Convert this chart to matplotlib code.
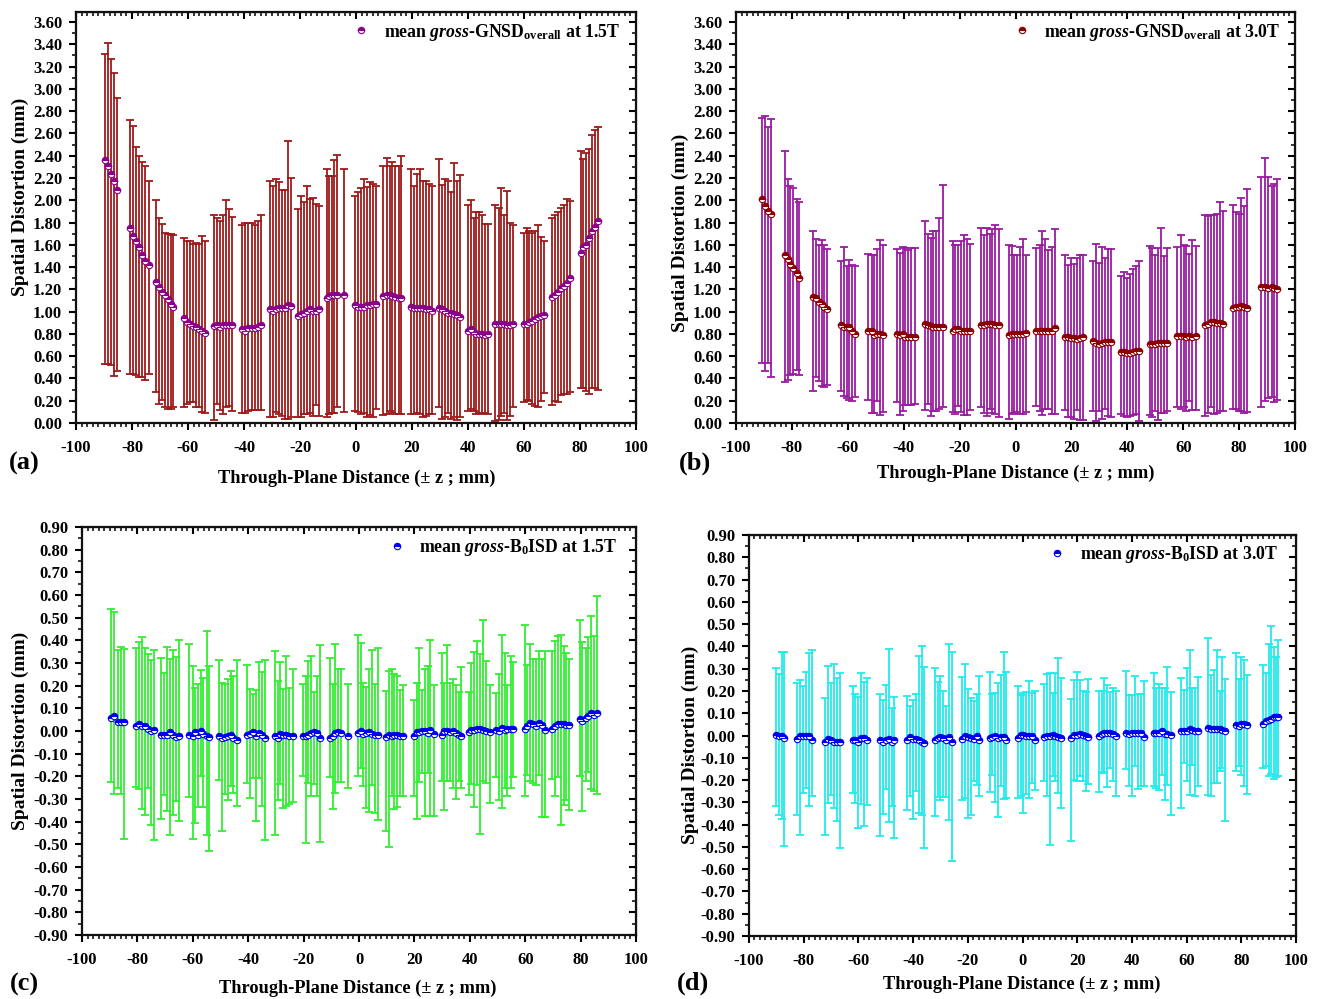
import numpy as np
import matplotlib
matplotlib.use("Agg")
import matplotlib.pyplot as plt
from matplotlib.ticker import MultipleLocator, FormatStrFormatter
from matplotlib.lines import Line2D

plt.rcParams['font.family'] = ['Liberation Serif', 'DejaVu Serif']
plt.rcParams['font.weight'] = 'bold'
plt.rcParams['axes.unicode_minus'] = False
plt.rcParams['mathtext.fontset'] = 'custom'
plt.rcParams['mathtext.rm'] = 'Liberation Serif:bold'
plt.rcParams['mathtext.it'] = 'Liberation Serif:italic:bold'
plt.rcParams['mathtext.bf'] = 'Liberation Serif:bold'

# ---------------- Panel (a): gross-GNSD overall at 1.5T ----------------
a_z = [-89.6, -88.5, -87.4, -86.3, -85.4,
       -80.6, -79.5, -78.4, -77.4, -76.3, -75.2, -74.1,
       -71.4, -70.3, -69.3, -68.2, -67.2, -66.1, -65.2,
       -61.5, -60.4, -59.3, -58.3, -57.2, -56.1, -55.0, -54.0,
       -50.7, -49.6, -48.6, -47.6, -46.5, -45.5, -44.2,
       -40.6, -39.5, -38.4, -37.3, -36.2, -35.1, -34.0,
       -30.6, -29.6, -28.5, -27.4, -26.3, -25.3, -24.2, -23.1,
       -20.7, -19.7, -18.6, -17.5, -16.4, -15.4, -14.3, -13.2,
       -10.5, -9.6, -8.7, -7.8, -6.9,
       -4.2,
       -0.4, 0.6, 1.7, 2.7, 3.8, 4.9, 6.0, 7.0,
       9.8, 10.9, 12.0, 13.0, 14.1, 15.2, 16.1,
       19.7, 20.8, 21.9, 22.9, 24.0, 25.1, 26.1, 27.3,
       29.7, 30.8, 31.9, 33.0, 34.0, 35.1, 36.2, 37.3,
       40.0, 41.0, 42.0, 43.0, 44.0, 45.0, 46.0, 47.0,
       49.8, 50.9, 51.9, 53.0, 54.1, 55.1, 56.1,
       59.9, 60.9, 61.9, 63.0, 64.0, 65.0, 66.1, 67.3,
       70.1, 71.1, 72.2, 73.2, 74.3, 75.3, 76.4,
       80.2, 81.2, 82.2, 83.3, 84.3, 85.4, 86.4]
a_mean = [2.36, 2.31, 2.24, 2.17, 2.09,
          1.75, 1.68, 1.63, 1.58, 1.51, 1.45, 1.42,
          1.27, 1.22, 1.18, 1.15, 1.11, 1.07, 1.04,
          0.94, 0.91, 0.89, 0.87, 0.86, 0.84, 0.83, 0.81,
          0.87, 0.88, 0.86, 0.88, 0.88, 0.88, 0.88,
          0.84, 0.83, 0.85, 0.85, 0.85, 0.86, 0.88,
          1.02, 1.01, 1.02, 1.03, 1.03, 1.03, 1.06, 1.05,
          0.96, 0.98, 0.99, 1.01, 1.02, 1.01, 1.01, 1.02,
          1.12, 1.14, 1.15, 1.15, 1.15,
          1.15,
          1.06, 1.04, 1.04, 1.04, 1.06, 1.06, 1.07, 1.07,
          1.14, 1.15, 1.15, 1.14, 1.13, 1.12, 1.12,
          1.04, 1.03, 1.03, 1.03, 1.03, 1.02, 1.02, 1.01,
          1.03, 1.02, 1.01, 0.99, 0.99, 0.98, 0.97, 0.95,
          0.83, 0.84, 0.82, 0.80, 0.80, 0.80, 0.79, 0.80,
          0.89, 0.89, 0.89, 0.89, 0.88, 0.88, 0.89,
          0.89, 0.89, 0.91, 0.92, 0.93, 0.95, 0.96, 0.97,
          1.13, 1.15, 1.18, 1.21, 1.23, 1.26, 1.30,
          1.53, 1.58, 1.60, 1.66, 1.72, 1.76, 1.81]
a_high = [3.31, 3.41, 3.27, 3.14, 2.92,
          2.72, 2.67, 2.48, 2.40, 2.34, 2.31, 2.17,
          2.00, 1.84, 1.79, 1.71, 1.70, 1.70, 1.69,
          1.66, 1.63, 1.63, 1.61, 1.62, 1.61, 1.68, 1.63,
          1.87, 1.84, 1.81, 1.87, 2.00, 1.92, 1.85,
          1.78, 1.80, 1.80, 1.80, 1.78, 1.81, 1.87,
          2.17, 2.13, 2.19, 2.16, 2.09, 2.09, 2.53, 2.20,
          1.92, 2.04, 1.98, 2.13, 2.01, 2.02, 1.97, 1.95,
          2.28, 2.22, 2.22, 2.36, 2.41,
          2.28,
          2.04, 2.07, 2.11, 2.19, 2.12, 2.16, 2.15, 2.13,
          2.31, 2.38, 2.31, 2.34, 2.31, 2.31, 2.40,
          2.28, 2.13, 2.24, 2.28, 2.17, 2.17, 2.15, 2.13,
          2.37, 2.14, 2.19, 2.17, 2.07, 2.33, 2.17, 2.23,
          1.96, 2.00, 1.84, 1.89, 1.89, 1.87, 1.79, 1.79,
          1.96, 1.93, 2.11, 1.87, 2.08, 1.80, 1.78,
          1.71, 1.75, 1.72, 1.71, 1.72, 1.78, 1.67, 1.63,
          1.84, 1.87, 1.89, 1.93, 1.96, 2.01, 1.99,
          2.44, 2.37, 2.42, 2.46, 2.59, 2.63, 2.66]
a_low = [0.53, 0.53, 0.52, 0.42, 0.47,
         0.44, 0.44, 0.43, 0.41, 0.41, 0.39, 0.44,
         0.28, 0.17, 0.21, 0.14, 0.13, 0.13, 0.14,
         0.14, 0.17, 0.19, 0.19, 0.14, 0.14, 0.10, 0.09,
         0.03, 0.17, 0.12, 0.08, 0.14, 0.15, 0.11,
         0.09, 0.09, 0.11, 0.12, 0.12, 0.12, 0.12,
         0.05, 0.05, 0.10, 0.08, 0.06, 0.04, 0.04, 0.05,
         0.05, 0.05, 0.08, 0.08, 0.09, 0.06, 0.16, 0.06,
         0.05, 0.08, 0.09, 0.09, 0.14,
         0.10,
         0.11, 0.10, 0.08, 0.09, 0.05, 0.07, 0.05, 0.13,
         0.07, 0.08, 0.11, 0.09, 0.08, 0.08, 0.08,
         0.08, 0.08, 0.09, 0.08, 0.05, 0.06, 0.08, 0.08,
         0.14, 0.04, 0.05, 0.09, 0.04, 0.05, 0.03, 0.05,
         0.11, 0.13, 0.11, 0.08, 0.09, 0.08, 0.09, 0.08,
         0.02, 0.03, 0.06, 0.09, 0.03, 0.06, 0.14,
         0.19, 0.21, 0.20, 0.17, 0.15, 0.14, 0.20, 0.27,
         0.16, 0.20, 0.19, 0.25, 0.26, 0.26, 0.28,
         0.31, 0.31, 0.29, 0.26, 0.31, 0.31, 0.30]

# ---------------- Panel (b): gross-GNSD overall at 3.0T ----------------
b_z = [-90.7, -89.6, -88.5, -87.4,
       -82.5, -81.5, -80.6, -79.5, -78.3, -77.4,
       -72.4, -71.4, -70.4, -69.4, -68.4, -67.3,
       -62.4, -61.5, -60.3, -59.5, -58.5, -57.3,
       -52.7, -51.5, -50.5, -49.6, -48.5, -47.3,
       -42.5, -41.3, -40.4, -39.4, -38.4, -37.3, -35.9,
       -32.4, -31.4, -30.4, -29.4, -28.4, -27.2, -26.0,
       -22.4, -21.5, -20.4, -19.5, -18.5, -17.4, -16.2,
       -12.3, -11.3, -10.3, -9.3, -8.4, -7.2, -6.0,
       -2.4, -1.3, -0.4, 0.6, 1.7, 2.6, 3.8,
       7.4, 8.6, 9.6, 10.6, 11.8, 13.0, 14.2,
       17.8, 18.8, 19.7, 20.8, 22.0, 22.9, 24.1,
       27.9, 28.9, 29.8, 30.9, 31.9, 33.1, 34.3,
       37.9, 38.8, 39.9, 40.8, 42.0, 43.0, 44.2,
       48.0, 48.9, 50.0, 51.0, 51.9, 53.0, 54.2,
       57.9, 59.1, 60.2, 61.1, 62.1, 63.3, 64.5,
       67.9, 68.9, 70.1, 71.0, 72.1, 73.1, 74.3,
       77.9, 78.8, 79.9, 80.8, 81.8, 82.9,
       88.0, 89.2, 90.4, 91.6, 92.5, 93.6]
b_mean = [2.01, 1.95, 1.90, 1.88,
          1.51, 1.47, 1.43, 1.39, 1.35, 1.30,
          1.13, 1.12, 1.09, 1.07, 1.04, 1.02,
          0.88, 0.86, 0.86, 0.86, 0.83, 0.80,
          0.83, 0.83, 0.79, 0.80, 0.80, 0.79,
          0.80, 0.79, 0.80, 0.77, 0.77, 0.77, 0.77,
          0.89, 0.88, 0.87, 0.86, 0.86, 0.86, 0.86,
          0.83, 0.84, 0.84, 0.83, 0.83, 0.83, 0.83,
          0.88, 0.88, 0.89, 0.89, 0.89, 0.88, 0.88,
          0.79, 0.80, 0.80, 0.80, 0.80, 0.80, 0.81,
          0.83, 0.83, 0.83, 0.83, 0.83, 0.83, 0.85,
          0.77, 0.77, 0.76, 0.76, 0.75, 0.76, 0.77,
          0.74, 0.72, 0.71, 0.72, 0.73, 0.73, 0.73,
          0.64, 0.64, 0.63, 0.63, 0.64, 0.65, 0.65,
          0.71, 0.71, 0.71, 0.72, 0.72, 0.72, 0.72,
          0.78, 0.78, 0.78, 0.77, 0.78, 0.77, 0.78,
          0.88, 0.89, 0.91, 0.91, 0.90, 0.90, 0.89,
          1.03, 1.04, 1.04, 1.05, 1.04, 1.03,
          1.22, 1.22, 1.21, 1.22, 1.21, 1.20]
b_high = [2.74, 2.76, 2.66, 2.73,
          2.44, 2.19, 2.13, 2.11, 2.01, 1.98,
          1.72, 1.65, 1.60, 1.64, 1.60, 1.56,
          1.45, 1.58, 1.41, 1.46, 1.42, 1.41,
          1.52, 1.51, 1.51, 1.56, 1.64, 1.60,
          1.56, 1.53, 1.58, 1.57, 1.55, 1.57, 1.57,
          1.81, 1.70, 1.66, 1.72, 1.72, 1.84, 2.14,
          1.63, 1.60, 1.60, 1.63, 1.69, 1.65, 1.61,
          1.75, 1.69, 1.75, 1.70, 1.74, 1.78, 1.74,
          1.60, 1.59, 1.51, 1.51, 1.58, 1.65, 1.51,
          1.57, 1.60, 1.72, 1.65, 1.55, 1.58, 1.74,
          1.51, 1.42, 1.48, 1.43, 1.48, 1.51, 1.51,
          1.45, 1.61, 1.44, 1.58, 1.48, 1.56, 1.56,
          1.32, 1.36, 1.30, 1.34, 1.38, 1.41, 1.45,
          1.59, 1.57, 1.51, 1.57, 1.75, 1.50, 1.57,
          1.58, 1.69, 1.60, 1.59, 1.52, 1.64, 1.59,
          1.87, 1.86, 1.87, 1.87, 1.88, 1.98, 1.90,
          1.96, 1.89, 1.88, 2.02, 1.95, 2.10,
          2.21, 2.38, 2.21, 2.13, 2.15, 2.19]
b_low = [0.54, 0.47, 0.54, 0.41,
         0.37, 0.39, 0.43, 0.44, 0.48, 0.43,
         0.29, 0.41, 0.38, 0.33, 0.32, 0.34,
         0.29, 0.24, 0.22, 0.21, 0.20, 0.23,
         0.21, 0.09, 0.09, 0.20, 0.07, 0.10,
         0.19, 0.07, 0.11, 0.16, 0.16, 0.16, 0.17,
         0.12, 0.17, 0.06, 0.11, 0.11, 0.13, 0.14,
         0.10, 0.08, 0.15, 0.10, 0.07, 0.07, 0.12,
         0.14, 0.09, 0.06, 0.13, 0.09, 0.08, 0.05,
         0.04, 0.08, 0.09, 0.10, 0.08, 0.08, 0.10,
         0.15, 0.11, 0.07, 0.13, 0.13, 0.08, 0.08,
         0.12, 0.05, 0.05, 0.04, 0.12, 0.03, 0.03,
         0.11, 0.02, 0.11, 0.04, 0.13, 0.06, 0.05,
         0.08, 0.06, 0.05, 0.06, 0.07, 0.08, 0.02,
         0.07, 0.05, 0.11, 0.03, 0.09, 0.09, 0.11,
         0.14, 0.13, 0.14, 0.11, 0.20, 0.12, 0.12,
         0.06, 0.09, 0.14, 0.08, 0.09, 0.11, 0.11,
         0.13, 0.13, 0.11, 0.11, 0.09, 0.10,
         0.14, 0.20, 0.22, 0.23, 0.19, 0.21]

# ---------------- Panel (c): gross-B0ISD at 1.5T ----------------
c_z = [-89.5, -88.3, -87.1, -85.9, -84.9,
       -80.5, -79.3, -78.4, -77.2, -76.2, -75.0, -73.9,
       -71.5, -70.3, -69.4, -68.2, -67.0, -66.0, -64.9,
       -61.3, -60.1, -59.1, -58.2, -57.1, -56.2, -55.0, -54.0,
       -50.4, -49.3, -48.3, -47.4, -46.3, -45.4, -44.1,
       -40.3, -39.3, -38.3, -37.1, -36.1, -35.1, -33.9,
       -30.3, -29.3, -28.5, -27.3, -26.3, -25.2, -24.0,
       -20.3, -19.2, -18.3, -17.3, -16.2, -15.3, -14.1,
       -10.5, -9.5, -8.5, -7.6, -6.5,
       -4.1,
       -0.5, 0.6, 1.6, 2.6, 3.6, 4.6, 5.8, 7.0,
       9.7, 10.8, 11.8, 12.7, 13.8, 14.8, 16.0,
       19.8, 20.8, 21.8, 22.8, 23.8, 24.8, 25.8, 27.0,
       29.8, 30.8, 31.8, 32.8, 33.8, 34.9, 36.1, 37.0,
       39.7, 40.6, 41.6, 42.7, 43.6, 44.8, 46.0, 47.2,
       49.6, 50.6, 51.7, 52.6, 53.6, 54.7, 55.6,
       59.9, 60.8, 61.9, 62.9, 63.8, 64.9, 65.9, 67.1,
       69.8, 70.9, 71.9, 72.8, 73.9, 74.9, 75.8,
       79.7, 80.6, 81.8, 82.7, 83.9, 84.9, 85.9]
c_mean = [0.057, 0.065, 0.038, 0.038, 0.038,
          0.024, 0.032, 0.021, 0.021, 0.009, -0.001, 0.003,
          -0.016, -0.016, -0.016, -0.006, -0.016, -0.026, -0.021,
          -0.019, -0.024, -0.006, -0.016, -0.001, -0.012, -0.024, -0.026,
          -0.021, -0.031, -0.026, -0.021, -0.016, -0.031, -0.038,
          -0.016, -0.013, -0.006, -0.024, -0.009, -0.016, -0.031,
          -0.021, -0.031, -0.013, -0.016, -0.016, -0.021, -0.021,
          -0.024, -0.021, -0.016, -0.009, -0.006, -0.009, -0.031,
          -0.031, -0.021, -0.009, -0.006, -0.009,
          -0.024,
          -0.009, -0.001, -0.013, -0.009, -0.006, -0.013, -0.016, -0.016,
          -0.026, -0.016, -0.024, -0.016, -0.016, -0.021, -0.024,
          -0.021, -0.006, -0.006, 0.001, 0.001, -0.009, 0.006, -0.013,
          -0.016, -0.001, 0.001, -0.006, -0.001, -0.009, -0.016, -0.021,
          -0.006, 0.006, 0.006, 0.009, 0.009, 0.006, -0.001, -0.006,
          0.006, -0.001, 0.013, 0.006, 0.009, 0.009, 0.009,
          0.009, 0.021, 0.035, 0.032, 0.024, 0.035, 0.028, 0.003,
          0.009, 0.021, 0.032, 0.032, 0.032, 0.028, 0.028,
          0.053, 0.043, 0.057, 0.065, 0.079, 0.072, 0.079]
c_high = [0.538, 0.525, 0.359, 0.371, 0.363,
          0.366, 0.391, 0.415, 0.366, 0.341, 0.312, 0.359,
          0.322, 0.256, 0.369, 0.318, 0.359, 0.326, 0.400,
          0.384, 0.285, 0.190, 0.209, 0.271, 0.234, 0.440, 0.285,
          0.312, 0.212, 0.207, 0.231, 0.266, 0.244, 0.315,
          0.293, 0.185, 0.165, 0.179, 0.304, 0.260, 0.312,
          0.351, 0.222, 0.303, 0.185, 0.332, 0.190, 0.275,
          0.209, 0.241, 0.310, 0.329, 0.172, 0.244, 0.381,
          0.322, 0.207, 0.385, 0.274, 0.275,
          0.209,
          0.422, 0.388, 0.212, 0.193, 0.274, 0.359, 0.209, 0.366,
          0.178, 0.263, 0.274, 0.251, 0.244, 0.182, 0.204,
          0.135, 0.212, 0.366, 0.182, 0.274, 0.285, 0.403, 0.204,
          0.344, 0.212, 0.378, 0.212, 0.229, 0.201, 0.171, 0.282,
          0.172, 0.300, 0.347, 0.396, 0.340, 0.491, 0.307, 0.204,
          0.168, 0.253, 0.425, 0.344, 0.204, 0.329, 0.303,
          0.469, 0.290, 0.384, 0.318, 0.318, 0.354, 0.318, 0.354,
          0.351, 0.396, 0.418, 0.425, 0.374, 0.344, 0.318,
          0.491, 0.393, 0.366, 0.413, 0.506, 0.418, 0.594]
c_low = [-0.225, -0.276, -0.251, -0.276, -0.475,
         -0.247, -0.256, -0.343, -0.372, -0.251, -0.416, -0.479,
         -0.388, -0.281, -0.354, -0.460, -0.372, -0.310, -0.399,
         -0.291, -0.475, -0.406, -0.337, -0.200, -0.335, -0.457, -0.531,
         -0.215, -0.443, -0.276, -0.306, -0.244, -0.274, -0.329,
         -0.229, -0.296, -0.207, -0.399, -0.207, -0.329, -0.479,
         -0.460, -0.303, -0.232, -0.340, -0.332, -0.322, -0.315,
         -0.200, -0.494, -0.229, -0.288, -0.234, -0.288, -0.491,
         -0.204, -0.344, -0.274, -0.226, -0.225,
         -0.251,
         -0.200, -0.163, -0.244, -0.340, -0.359, -0.237, -0.362, -0.391,
         -0.443, -0.513, -0.285, -0.344, -0.335, -0.285, -0.288,
         -0.285, -0.387, -0.226, -0.185, -0.376, -0.185, -0.376, -0.376,
         -0.222, -0.347, -0.222, -0.219, -0.251, -0.300, -0.222, -0.251,
         -0.281, -0.234, -0.335, -0.240, -0.453, -0.222, -0.229, -0.318,
         -0.204, -0.303, -0.340, -0.251, -0.288, -0.251, -0.204,
         -0.288, -0.196, -0.219, -0.229, -0.240, -0.196, -0.381, -0.381,
         -0.210, -0.288, -0.203, -0.413, -0.325, -0.303, -0.347,
         -0.197, -0.351, -0.222, -0.181, -0.256, -0.266, -0.276]

# ---------------- Panel (d): gross-B0ISD at 3.0T ----------------
d_z = [-90.3, -89.2, -88.0, -87.2,
       -82.3, -81.2, -80.1, -79.0, -77.9, -77.0,
       -72.1, -71.0, -69.9, -68.8, -67.9, -66.9,
       -62.1, -61.1, -60.0, -58.9, -57.9, -56.8,
       -52.0, -51.0, -49.9, -48.9, -47.8, -46.9,
       -42.1, -41.0, -40.0, -39.0, -37.9, -36.7, -35.9,
       -32.0, -31.0, -30.1, -29.0, -27.9, -26.9, -25.9,
       -22.1, -21.0, -20.0, -18.9, -17.9, -16.8, -15.9,
       -12.0, -11.0, -9.9, -9.0, -7.9, -6.9, -5.9,
       -1.8, -0.7, 0.3, 1.4, 2.3, 3.4, 4.4,
       7.9, 9.0, 9.9, 11.0, 12.0, 13.1, 14.1,
       17.9, 19.0, 20.0, 21.1, 22.1, 23.2, 24.1,
       27.9, 29.0, 29.9, 31.0, 32.0, 33.1, 34.1,
       37.9, 39.0, 40.0, 41.1, 42.1, 43.2, 44.3,
       48.0, 48.9, 50.0, 51.0, 52.0, 53.0, 54.2,
       58.1, 59.0, 60.0, 61.1, 62.1, 63.0, 64.1,
       68.0, 69.0, 70.0, 71.0, 72.1, 73.1, 74.2,
       77.9, 79.0, 80.0, 81.1, 82.1,
       88.0, 89.0, 90.1, 91.0, 92.0, 92.8, 93.5]
d_mean = [0.003, -0.004, -0.001, -0.012,
          -0.016, -0.004, -0.001, -0.001, -0.001, -0.019,
          -0.031, -0.016, -0.022, -0.027, -0.027, -0.027,
          -0.022, -0.022, -0.027, -0.012, -0.012, -0.022,
          -0.022, -0.031, -0.019, -0.016, -0.031, -0.022,
          -0.022, -0.007, -0.016, -0.016, -0.022, -0.027, -0.034,
          -0.022, -0.012, -0.007, -0.012, -0.019, -0.007, -0.027,
          -0.015, -0.004, -0.007, -0.012, -0.016, -0.004, -0.019,
          -0.012, -0.007, -0.001, -0.012, -0.007, -0.007, -0.019,
          -0.012, 0.003, 0.003, -0.004, -0.004, -0.004, -0.019,
          -0.007, -0.004, -0.004, 0.003, -0.001, -0.007, -0.012,
          -0.012, 0.003, 0.003, 0.007, 0.003, -0.001, -0.007,
          -0.001, 0.007, 0.010, 0.013, 0.010, 0.007, -0.004,
          0.010, 0.006, 0.013, 0.013, 0.013, 0.010, -0.007,
          0.013, 0.013, 0.013, 0.018, 0.007, 0.007, 0.003,
          0.018, 0.022, 0.022, 0.028, 0.025, 0.022, 0.022,
          0.033, 0.028, 0.028, 0.028, 0.028, 0.025, 0.022,
          0.048, 0.043, 0.052, 0.052, 0.048,
          0.052, 0.063, 0.070, 0.073, 0.082, 0.082, 0.081]
d_high = [0.304, 0.275, 0.376, 0.376,
          0.234, 0.249, 0.224, 0.287, 0.369, 0.384,
          0.167, 0.312, 0.237, 0.319, 0.260, 0.282,
          0.222, 0.187, 0.172, 0.279, 0.242, 0.257,
          0.185, 0.160, 0.227, 0.387, 0.122, 0.172,
          0.179, 0.133, 0.160, 0.185, 0.357, 0.403, 0.306,
          0.304, 0.242, 0.267, 0.201, 0.134, 0.409, 0.373,
          0.264, 0.319, 0.209, 0.167, 0.155, 0.185, 0.269,
          0.287, 0.187, 0.193, 0.237, 0.272, 0.373, 0.284,
          0.222, 0.182, 0.190, 0.194, 0.245, 0.193, 0.201,
          0.231, 0.275, 0.282, 0.193, 0.282, 0.349, 0.260,
          0.164, 0.249, 0.287, 0.249, 0.201, 0.194, 0.252,
          0.200, 0.200, 0.260, 0.227, 0.194, 0.212, 0.200,
          0.290, 0.182, 0.182, 0.269, 0.187, 0.187, 0.246,
          0.282, 0.215, 0.230, 0.215, 0.212, 0.309, 0.197,
          0.257, 0.204, 0.301, 0.384, 0.212, 0.212, 0.264,
          0.436, 0.272, 0.294, 0.384, 0.201, 0.351, 0.252,
          0.372, 0.254, 0.354, 0.339, 0.272,
          0.316, 0.282, 0.409, 0.491, 0.396, 0.354, 0.428]
d_low = [-0.318, -0.355, -0.375, -0.494,
         -0.355, -0.445, -0.258, -0.236, -0.315, -0.273,
         -0.445, -0.303, -0.266, -0.325, -0.385, -0.504,
         -0.258, -0.303, -0.415, -0.306, -0.404, -0.310,
         -0.452, -0.351, -0.240, -0.390, -0.315, -0.460,
         -0.333, -0.270, -0.373, -0.251, -0.348, -0.355, -0.507,
         -0.360, -0.278, -0.288, -0.276, -0.278, -0.378, -0.564,
         -0.288, -0.281, -0.370, -0.355, -0.206, -0.221, -0.270,
         -0.255, -0.176, -0.300, -0.366, -0.228, -0.284, -0.281,
         -0.281, -0.273, -0.348, -0.263, -0.281, -0.213, -0.246,
         -0.206, -0.270, -0.490, -0.184, -0.206, -0.258, -0.325,
         -0.475, -0.199, -0.206, -0.181, -0.206, -0.251, -0.216,
         -0.255, -0.169, -0.166, -0.233, -0.146, -0.206, -0.270,
         -0.151, -0.228, -0.270, -0.136, -0.240, -0.228, -0.225,
         -0.228, -0.236, -0.246, -0.176, -0.288, -0.221, -0.355,
         -0.325, -0.124, -0.206, -0.269, -0.131, -0.273, -0.228,
         -0.266, -0.273, -0.213, -0.213, -0.161, -0.146, -0.385,
         -0.161, -0.139, -0.176, -0.228, -0.261,
         -0.146, -0.136, -0.184, -0.172, -0.196, -0.188, -0.184]

legend_a = r'mean $\mathit{gross}$-$\mathrm{GNSD}_{\mathrm{overall}}$ at 1.5T'
legend_b = r'mean $\mathit{gross}$-$\mathrm{GNSD}_{\mathrm{overall}}$ at 3.0T'
legend_c = r'mean $\mathit{gross}$-$\mathrm{B}_{0}\mathrm{ISD}$ at 1.5T'
legend_d = r'mean $\mathit{gross}$-$\mathrm{B}_{0}\mathrm{ISD}$ at 3.0T'
xlabel_text = 'Through-Plane Distance (± z ; mm)'
ylabel_text = 'Spatial Distortion (mm)'

W, H = 1318, 999
fig = plt.figure(figsize=(W / 100, H / 100), dpi=100)
fig.patch.set_facecolor('white')


def px_rect(l, t, r, b):
    return [l / W, 1 - b / H, (r - l) / W, (b - t) / H]


def setup(ax, ylim, ymaj, ymin):
    ax.set_xlim(-100, 100)
    ax.set_ylim(*ylim)
    ax.xaxis.set_major_locator(MultipleLocator(20))
    ax.xaxis.set_minor_locator(MultipleLocator(2))
    ax.yaxis.set_major_locator(MultipleLocator(ymaj))
    ax.yaxis.set_minor_locator(MultipleLocator(ymin))
    ax.yaxis.set_major_formatter(FormatStrFormatter('%.2f'))
    ax.tick_params(which='major', direction='out', length=5, width=1.5,
                   labelsize=12)
    ax.tick_params(axis='x', which='major', pad=7)
    ax.tick_params(axis='y', which='major', pad=5)
    ax.tick_params(which='minor', direction='out', length=3, width=1.1)
    for lab in ax.get_xticklabels() + ax.get_yticklabels():
        lab.set_fontweight('bold')
    for sp in ax.spines.values():
        sp.set_linewidth(1.6)
        sp.set_color('#111111')
    top = ax.secondary_xaxis('top')
    top.xaxis.set_major_locator(MultipleLocator(20))
    top.xaxis.set_minor_locator(MultipleLocator(2))
    top.tick_params(which='major', direction='in', length=5, width=1.5, labeltop=False)
    top.tick_params(which='minor', direction='in', length=3, width=1.1)
    right = ax.secondary_yaxis('right')
    right.yaxis.set_major_locator(MultipleLocator(ymaj))
    right.yaxis.set_minor_locator(MultipleLocator(ymin))
    right.tick_params(which='major', direction='in', length=5, width=1.5, labelright=False)
    right.tick_params(which='minor', direction='in', length=3, width=1.1)


def draw(ax, z, mean, low, high, ecolor, mcolor, label, legend_anchor):
    z = np.asarray(z); mean = np.asarray(mean)
    low = np.asarray(low); high = np.asarray(high)
    yerr = np.vstack([np.clip(mean - low, 0, None), np.clip(high - mean, 0, None)])
    ax.errorbar(z, mean, yerr=yerr, fmt='none', ecolor=ecolor, elinewidth=1.3,
                capsize=2.6, capthick=1.3, zorder=2)
    ax.plot(z, mean, linestyle='none', marker='o', markersize=4.6,
            fillstyle='top', markerfacecolor=mcolor, markerfacecoloralt='white',
            markeredgecolor=mcolor, markeredgewidth=0.8, zorder=3)
    h = Line2D([], [], linestyle='none', marker='o', markersize=4.6,
               fillstyle='top', markerfacecolor=mcolor, markerfacecoloralt='white',
               markeredgecolor=mcolor, markeredgewidth=0.8)
    ax.legend([h], [label], loc='center right', bbox_to_anchor=legend_anchor,
              frameon=False, handlelength=1.0, handletextpad=0.75,
              borderpad=0, borderaxespad=0,
              prop={'family': 'Liberation Serif', 'weight': 'bold', 'size': 12.8})


# Panel (a)
ax_a = fig.add_axes(px_rect(76, 12, 636, 423))
setup(ax_a, (0, 3.69), 0.2, 0.1)
draw(ax_a, a_z, a_mean, a_low, a_high, '#9E1A1A', '#8B008B', legend_a, (0.971, 0.951))

# Panel (b)
ax_b = fig.add_axes(px_rect(736, 12, 1295, 423))
setup(ax_b, (0, 3.69), 0.2, 0.1)
draw(ax_b, b_z, b_mean, b_low, b_high, '#9A1BA0', '#8B0000', legend_b, (0.973, 0.951))

# Panel (c)
ax_c = fig.add_axes(px_rect(82, 527, 636, 935))
setup(ax_c, (-0.9, 0.9), 0.1, 0.05)
draw(ax_c, c_z, c_mean, c_low, c_high, '#33EE33', '#0000EE', legend_c, (0.966, 0.949))

# Panel (d)
ax_d = fig.add_axes(px_rect(749, 535, 1296, 936))
setup(ax_d, (-0.9, 0.9), 0.1, 0.05)
draw(ax_d, d_z, d_mean, d_low, d_high, '#22EAEA', '#0000EE', legend_d, (0.966, 0.952))

# axis titles and panel letters
xl_kw = dict(fontsize=13.2, fontweight='bold', ha='center', va='center')
yl_kw = dict(fontsize=14.0, fontweight='bold', ha='center', va='center', rotation=90)
fig.text(357 / W, 1 - 478 / H, xlabel_text, **xl_kw)
fig.text(1016 / W, 1 - 473 / H, xlabel_text, **xl_kw)
fig.text(358 / W, 1 - 988 / H, xlabel_text, **xl_kw)
fig.text(1022 / W, 1 - 984 / H, xlabel_text, **xl_kw)
fig.text(20 / W, 1 - 197 / H, ylabel_text, **yl_kw)
fig.text(680 / W, 1 - 233 / H, ylabel_text, **yl_kw)
fig.text(20 / W, 1 - 731 / H, ylabel_text, **yl_kw)
fig.text(690 / W, 1 - 745 / H, ylabel_text, **yl_kw)
pl_kw = dict(fontsize=19, fontweight='bold', ha='center', va='center')
fig.text(24 / W, 1 - 463 / H, '(a)', **pl_kw)
fig.text(695 / W, 1 - 463 / H, '(b)', **pl_kw)
fig.text(24 / W, 1 - 984 / H, '(c)', **pl_kw)
fig.text(693 / W, 1 - 983 / H, '(d)', **pl_kw)

fig.savefig('out.png', dpi=100, facecolor='white')
